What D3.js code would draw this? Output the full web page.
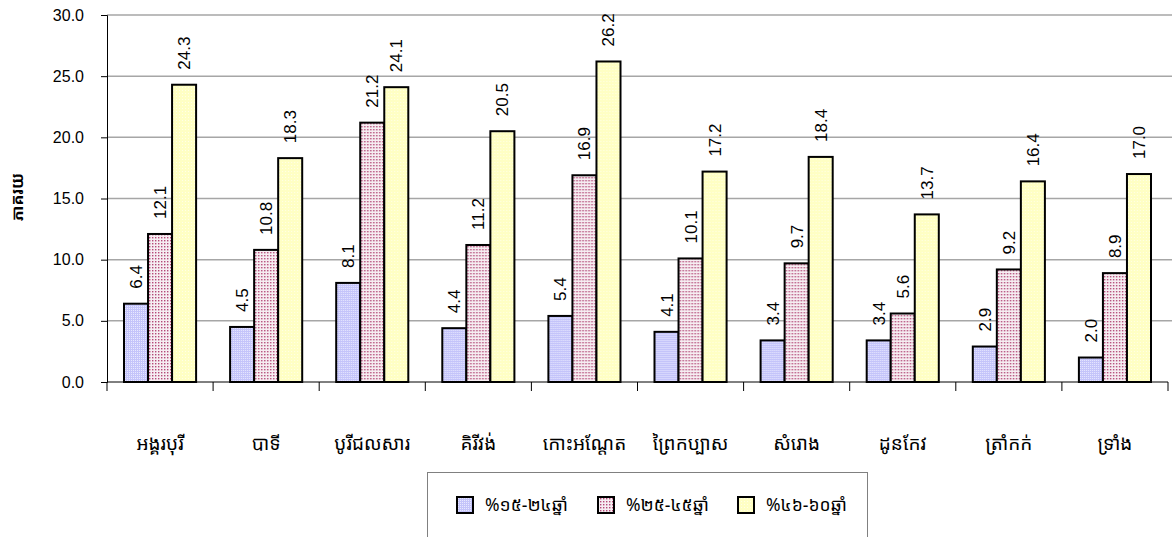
<!DOCTYPE html>
<html><head><meta charset="utf-8">
<script src="https://cdn.jsdelivr.net/npm/d3@7"></script>
<style>body{margin:0;background:#fff}svg{display:block}</style>
</head><body>
<svg id="c" width="1172" height="537"></svg>
<script>
const categories = ["អង្គរបុរី","បាទី","បូរីជលសារ","គិរីវង់","កោះអណ្តែត","ព្រៃកប្បាស","សំរោង","ដូនកែវ","ត្រាំកក់","ទ្រាំង"];
const seriesNames = ["%១៥-២៤ឆ្នាំ","%២៥-៤៥ឆ្នាំ","%៤៦-៦០ឆ្នាំ"];
const age15_24 = [6.4,4.5,8.1,4.4,5.4,4.1,3.4,3.4,2.9,2.0];
const age25_45 = [12.1,10.8,21.2,11.2,16.9,10.1,9.7,5.6,9.2,8.9];
const age46_60 = [24.3,18.3,24.1,20.5,26.2,17.2,18.4,13.7,16.4,17.0];
const yTicks = [0,5,10,15,20,25,30];
const yLabel = "ភាគរយ";

const svg = d3.select("#c");
const khmer = "'Khmer OS','Khmer OS System','Noto Sans Khmer','DaunPenh','Noto Sans',sans-serif";
const defs = svg.append("defs");
function pat(id, base, dot, step, size){
  const p = defs.append("pattern").attr("id",id).attr("patternUnits","userSpaceOnUse").attr("width",step).attr("height",step);
  p.append("rect").attr("width",step).attr("height",step).attr("fill",base);
  p.append("rect").attr("x",0).attr("y",0).attr("width",size).attr("height",size).attr("fill",dot);
}
pat("p0","#c4c4fa","#e8e8ff",2,1);
pat("p1","#f6eef2","#b44a78",3,1.4);
pat("p2","#ffffc4","#ffffe8",3,1);
const fills = ["url(#p0)","url(#p1)","url(#p2)"];

const L=107,R=1168,T=15,B=382;
const x0 = d3.scaleBand().domain(categories).range([L,R]).paddingInner(0).paddingOuter(0);
const x1 = d3.scaleBand().domain([0,1,2]).range([17, x0.bandwidth()-17]).padding(0);
const y = d3.scaleLinear().domain([0,30]).range([B,T]);

// gridlines
svg.append("g").selectAll("line").data(yTicks.filter(d=>d>0)).join("line")
  .attr("x1",L).attr("x2",1172).attr("y1",d=>y(d)).attr("y2",d=>y(d))
  .attr("stroke","#a6a6a6").attr("stroke-width",1.5);

// y axis
const yAxis = d3.axisLeft(y).tickValues(yTicks).tickFormat(d3.format(".1f")).tickSize(6).tickPadding(17);
const gy = svg.append("g").attr("transform",`translate(${L},0)`).call(yAxis);
gy.select(".domain").attr("stroke","#000");
gy.selectAll(".tick line").attr("stroke","#000");
gy.selectAll("text").attr("font-family","Arial, 'Liberation Sans', sans-serif").attr("font-size",16).attr("fill","#000");

svg.append("text").attr("transform",`translate(23,197) rotate(-90)`).attr("text-anchor","middle")
  .attr("font-family",khmer).attr("font-weight","bold").attr("font-size",16).text(yLabel);

// bars
const data = categories.map((c,i)=>({c, v:[age15_24[i],age25_45[i],age46_60[i]]}));
const groups = svg.append("g").selectAll("g").data(data).join("g")
  .attr("transform",d=>`translate(${x0(d.c)},0)`);
groups.selectAll("rect").data(d=>d.v.map((v,k)=>({v,k}))).join("rect")
  .attr("x",d=>x1(d.k)).attr("width",x1.bandwidth())
  .attr("y",d=>y(d.v)).attr("height",d=>B-y(d.v))
  .attr("fill",d=>fills[d.k]).attr("stroke","#000").attr("stroke-width",2);
groups.selectAll("text").data(d=>d.v.map((v,k)=>({v,k}))).join("text")
  .attr("transform",d=>`translate(${x1(d.k)+x1.bandwidth()/2+6},${y(d.v)-15}) rotate(-90)`)
  .attr("font-family","Arial, 'Liberation Sans', sans-serif").attr("font-size",17)
  .text(d=>d.v.toFixed(1));

// x axis
svg.append("line").attr("x1",L).attr("x2",R).attr("y1",B).attr("y2",B).attr("stroke","#000").attr("stroke-width",1);
const bounds = categories.map(c=>x0(c)).concat([R]);
svg.append("g").selectAll("line").data(bounds).join("line")
  .attr("x1",d=>d).attr("x2",d=>d).attr("y1",B).attr("y2",B+9).attr("stroke","#000");
svg.append("g").selectAll("text").data(categories).join("text")
  .attr("x",d=>x0(d)+x0.bandwidth()/2).attr("y",450).attr("text-anchor","middle")
  .attr("font-family",khmer).attr("font-size",19).text(d=>d);

// legend
const lg = svg.append("g");
lg.append("rect").attr("x",427.5).attr("y",472.5).attr("width",440).attr("height",80)
  .attr("fill","#fff").attr("stroke","#808080").attr("stroke-width",1);
const lx = [457,598,738];
seriesNames.forEach((s,k)=>{
  lg.append("rect").attr("x",lx[k]).attr("y",497).attr("width",16).attr("height",16)
    .attr("fill",fills[k]).attr("stroke","#000").attr("stroke-width",2);
  lg.append("text").attr("x",lx[k]+28).attr("y",511).attr("font-family",khmer).attr("font-size",17.5).text(s);
});
</script>
</body></html>
